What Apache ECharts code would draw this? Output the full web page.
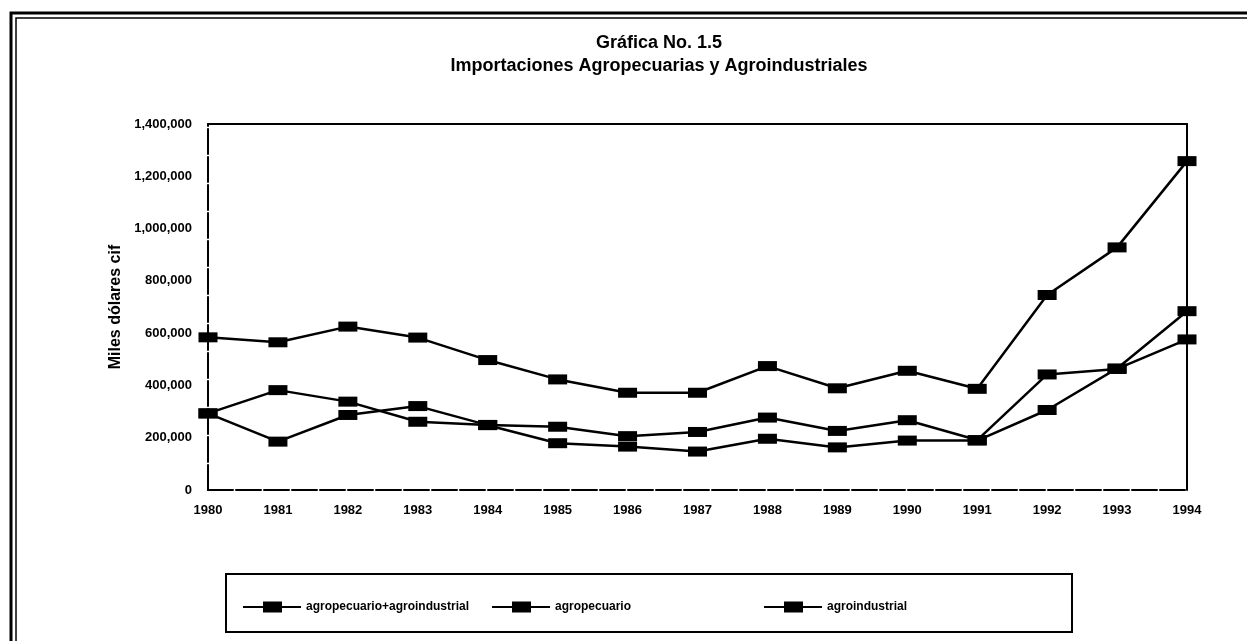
<!DOCTYPE html>
<html>
<head>
<meta charset="utf-8">
<script src="https://cdn.jsdelivr.net/npm/echarts@6/dist/echarts.min.js"></script>
<style>
  html, body { margin: 0; padding: 0; background: #fff; }
  #main { width: 1247px; height: 641px; }
</style>
</head>
<body>
<div id="main"></div>
<script>
// años del eje X
var years = ['1980', '1981', '1982', '1983', '1984', '1985', '1986', '1987',
             '1988', '1989', '1990', '1991', '1992', '1993', '1994'];

// miles de dólares cif
var total = [584000, 565000, 625000, 583000, 497000, 423000, 372000, 372000,
             474000, 389000, 456000, 387000, 746000, 928000, 1258000];
var agropecuario = [293000, 382000, 338000, 261000, 249000, 242000, 206000, 222000,
                    277000, 226000, 267000, 191000, 442000, 463000, 576000];
var agroindustrial = [293000, 185000, 287000, 321000, 248000, 179000, 166000, 147000,
                      196000, 163000, 189000, 189000, 306000, 465000, 684000];

var yTicks = [0, 200000, 400000, 600000, 800000, 1000000, 1200000, 1400000];

var FONT = '"Liberation Sans", Arial, sans-serif';
// icono de leyenda: línea con cuadro negro al centro
var ICON = 'path://M0,4.5H20V0H39V4.5H58V6.5H39V11H20V6.5H0Z';

function serie(name, data) {
  return {
    name: name,
    type: 'line',
    data: data,
    symbol: 'rect',
    symbolSize: [19, 10],
    lineStyle: { color: '#000', width: 2.5 },
    itemStyle: { color: '#000' },
    emphasis: { disabled: true },
    animation: false
  };
}

function leyenda(name, left) {
  return {
    data: [{ name: name, icon: ICON }],
    left: left,
    top: 596,
    itemWidth: 58,
    itemHeight: 11,
    itemGap: 0,
    textStyle: { fontFamily: FONT, fontWeight: 'bold', fontSize: 12, color: '#000' }
  };
}

var chart = echarts.init(document.getElementById('main'));
var option = {
  backgroundColor: '#fff',
  animation: false,
  title: {
    text: 'Gráfica No. 1.5\nImportaciones Agropecuarias y Agroindustriales',
    left: 654,
    textAlign: 'center',
    top: 27,
    textStyle: { fontFamily: FONT, fontWeight: 'bold', fontSize: 18, lineHeight: 23, color: '#000' }
  },
  legend: [
    leyenda('agropecuario+agroindustrial', 238),
    leyenda('agropecuario', 487),
    leyenda('agroindustrial', 759)
  ],
  grid: { left: 208, right: 60, top: 124, bottom: 151 },
  xAxis: [
    {
      type: 'category',
      data: years,
      boundaryGap: false,
      axisLine: { onZero: false, lineStyle: { color: '#000', width: 2, type: [25, 3] } },
      axisTick: { show: false },
      axisLabel: { margin: 14, color: '#000', fontFamily: FONT, fontWeight: 'bold', fontSize: 13 },
      splitLine: { show: false }
    },
    {
      type: 'category',
      position: 'top',
      data: years,
      boundaryGap: false,
      axisLine: { onZero: false, lineStyle: { color: '#000', width: 2 } },
      axisTick: { show: false },
      axisLabel: { show: false },
      splitLine: { show: false }
    }
  ],
  yAxis: [
    {
      type: 'value',
      min: 0,
      max: 1400000,
      interval: 200000,
      name: 'Miles dólares cif',
      nameLocation: 'middle',
      nameRotate: 90,
      nameGap: 69,
      nameTextStyle: { fontFamily: FONT, fontWeight: 'bold', fontSize: 16, color: '#000' },
      axisLine: { show: true, onZero: false, lineStyle: { color: '#000', width: 2, type: [25, 3] } },
      axisTick: { show: false },
      splitLine: { show: false },
      axisLabel: {
        margin: 16,
        color: '#000',
        fontFamily: FONT,
        fontWeight: 'bold',
        fontSize: 13,
        formatter: function (v) {
          return yTicks.indexOf(v) >= 0 ? v.toLocaleString('en-US') : '';
        }
      }
    },
    {
      type: 'value',
      position: 'right',
      min: 0,
      max: 1400000,
      interval: 200000,
      axisLine: { show: true, onZero: false, lineStyle: { color: '#000', width: 2 } },
      axisTick: { show: false },
      axisLabel: { show: false },
      splitLine: { show: false }
    }
  ],
  graphic: [
    // marco doble de la página
    { type: 'polyline', silent: true, shape: { points: [[11, 641], [11, 13], [1247, 13]] },
      style: { stroke: '#000', lineWidth: 3, fill: null } },
    { type: 'polyline', silent: true, shape: { points: [[16, 641], [16, 18], [1247, 18]] },
      style: { stroke: '#000', lineWidth: 1.5, fill: null } },
    // caja de la leyenda
    { type: 'rect', silent: true, shape: { x: 226, y: 574, width: 846, height: 58 },
      style: { stroke: '#000', lineWidth: 2, fill: null } }
  ],
  series: [
    serie('agropecuario+agroindustrial', total),
    serie('agropecuario', agropecuario),
    serie('agroindustrial', agroindustrial)
  ]
};
chart.setOption(option);
</script>
</body>
</html>
